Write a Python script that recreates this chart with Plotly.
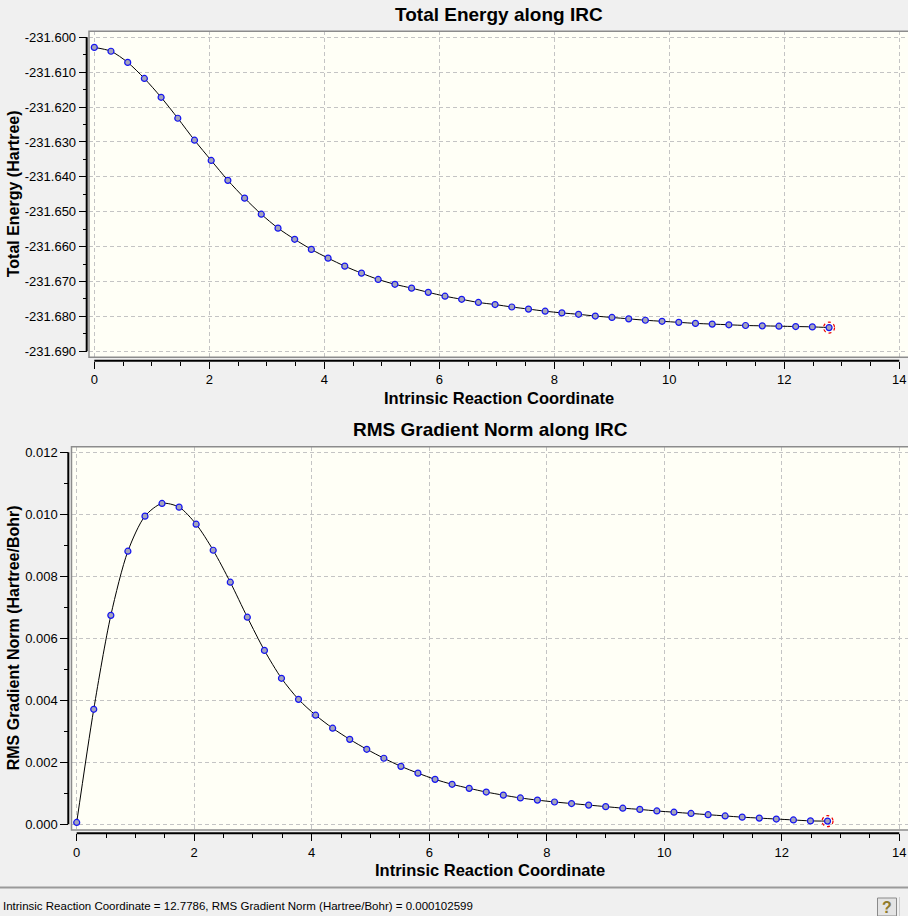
"""
Two-panel IRC (intrinsic reaction coordinate) plot: the total energy and
the RMS gradient norm along the reaction path, with a status bar at the
bottom like the viewer window it came from.
"""

import plotly.graph_objects as go

W, H = 908, 916

# Reaction coordinate of each IRC point (Bohr amu^1/2)
irc = [0.000, 0.290, 0.581, 0.871, 1.162, 1.452, 1.743, 2.033, 2.323,
       2.614, 2.904, 3.195, 3.485, 3.775, 4.066, 4.356, 4.647, 4.937,
       5.228, 5.518, 5.808, 6.099, 6.389, 6.680, 6.970, 7.261, 7.551,
       7.841, 8.132, 8.422, 8.713, 9.003, 9.294, 9.584, 9.874, 10.165,
       10.455, 10.746, 11.036, 11.326, 11.617, 11.907, 12.198, 12.488,
       12.7786]

# Total energy (Hartree)
energy = [-231.6029, -231.6040, -231.6072, -231.6118, -231.6172, -231.6232,
          -231.6295, -231.6353, -231.6410, -231.6461, -231.6507, -231.6547,
          -231.6579, -231.6608, -231.6633, -231.6656, -231.6676, -231.6694,
          -231.6708, -231.6719, -231.6731, -231.6742, -231.6751, -231.6760,
          -231.6766, -231.6773, -231.6779, -231.6785, -231.6790, -231.6794,
          -231.6799, -231.6803, -231.6807, -231.6811, -231.6814, -231.6817,
          -231.6820, -231.6822, -231.6824, -231.6826, -231.6827, -231.6828,
          -231.6829, -231.6830, -231.6832]

# RMS gradient norm (Hartree/Bohr)
gradient = [0.00006, 0.00371, 0.00674, 0.00881, 0.00994, 0.01035, 0.01023,
            0.00968, 0.00884, 0.00781, 0.00668, 0.00561, 0.00471, 0.00403,
            0.00352, 0.00310, 0.00274, 0.00242, 0.00213, 0.00187, 0.00165,
            0.00145, 0.00129, 0.00116, 0.00104, 0.00094, 0.00085, 0.00078,
            0.00072, 0.00067, 0.00062, 0.00057, 0.00052, 0.00048, 0.00043,
            0.00039, 0.00035, 0.00031, 0.00027, 0.00023, 0.00020, 0.00017,
            0.00014, 0.00011, 0.000102599]

# Tick labels
x_ticks = [0, 2, 4, 6, 8, 10, 12, 14]
energy_ticks = [-231.600, -231.610, -231.620, -231.630, -231.640,
                -231.650, -231.660, -231.670, -231.680, -231.690]
energy_labels = ['-231.600', '-231.610', '-231.620', '-231.630',
                 '-231.640', '-231.650', '-231.660', '-231.670',
                 '-231.680', '-231.690']
gradient_ticks = [0.000, 0.002, 0.004, 0.006, 0.008, 0.010, 0.012]
gradient_labels = ['0.000', '0.002', '0.004', '0.006', '0.008', '0.010',
                   '0.012']

status_text = ('Intrinsic Reaction Coordinate = 12.7786, '
               'RMS Gradient Norm (Hartree/Bohr) = 0.000102599')

FONT = 'Liberation Sans'
GRID = '#c4c4c4'
FRAME = '#8c8c8c'


def fx(px):
    """Pixel column -> paper fraction."""
    return px / W


def fy(py):
    """Pixel row (from top) -> paper fraction."""
    return 1 - py / H


def label(fig, text, x, y, size, bold=False, **kw):
    """Adds a centred paper-space text at pixel position (x, y)."""
    opts = dict(xanchor='center', yanchor='middle', showarrow=False)
    opts.update(kw)
    fig.add_annotation(text='<b>%s</b>' % text if bold else text,
                       xref='paper', yref='paper', x=fx(x), y=fy(y),
                       font=dict(family=FONT, size=size, color='black'),
                       **opts)


def add_panel(fig, n, box, axes_px, ticks, title, y_title):
    """
    Adds one panel. box = (left, top, bottom) pixels of the ivory area,
    axes_px = (x0_px, x14_px, ytop_px, ybot_px, yaxis_x, xaxis_y),
    ticks = (yvals, ylabels, yminor).
    """
    left, top, bottom = box
    x0p, x14p, ytp, ybp, yax_x, xax_y = axes_px
    yvals, ylabels, yminor = ticks
    ymax, ymin = max(yvals), min(yvals)

    # data range so that tick values land on the reference pixels
    xs = (x14p - x0p) / 14.0
    xr = [-(x0p - left) / xs, 14 + (W - x14p) / xs]
    ys = (ybp - ytp) / (ymax - ymin)
    yr = [ymin - (bottom - ybp) / ys, ymax + (ytp - top) / ys]

    xa = 'xaxis' if n == 1 else 'xaxis%d' % n
    ya = 'yaxis' if n == 1 else 'yaxis%d' % n
    tick_font = dict(family=FONT, size=13, color='black')
    fig.update_layout(**{
        xa: dict(domain=[fx(left), 1], range=xr, anchor='free',
                 position=fy(xax_y), tickmode='array', tickvals=x_ticks,
                 ticks='outside', ticklen=7, tickwidth=1, tickcolor='black',
                 tickfont=tick_font, showline=False, zeroline=False,
                 showgrid=True, gridcolor=GRID, gridwidth=1,
                 griddash='4px,3px', automargin=False,
                 minor=dict(tickmode='linear', tick0=0, dtick=0.5,
                            ticks='outside', ticklen=4, tickwidth=1,
                            tickcolor='black', showgrid=False)),
        ya: dict(domain=[fy(bottom), fy(top)], range=yr, anchor='free',
                 position=fx(yax_x), tickmode='array', tickvals=yvals,
                 ticktext=ylabels, ticks='outside', ticklen=8, tickwidth=1,
                 tickcolor='black', tickfont=tick_font, showline=False,
                 zeroline=False, showgrid=True, gridcolor=GRID,
                 gridwidth=1, griddash='4px,3px', automargin=False,
                 minor=dict(tickmode='linear', tick0=ymin,
                            dtick=yminor, ticks='outside', ticklen=4,
                            tickwidth=1, tickcolor='black',
                            showgrid=False)),
    })

    # ivory area and its frame (open on the right, like the window edge)
    fig.add_shape(type='rect', xref='paper', yref='paper', layer='below',
                  x0=fx(left), x1=1, y0=fy(bottom), y1=fy(top),
                  fillcolor='#fffff6', line_width=0)
    fig.add_shape(type='path', xref='paper', yref='paper',
                  path='M %f,%f L %f,%f L %f,%f L %f,%f' % (
                      1, fy(top), fx(left), fy(top), fx(left), fy(bottom),
                      1, fy(bottom)),
                  line=dict(color=FRAME, width=1.5))

    # axis lines only span the tick range, set apart from the frame
    fig.add_shape(type='line', xref='paper', yref='paper',
                  x0=fx(x0p), x1=fx(x14p), y0=fy(xax_y), y1=fy(xax_y),
                  line=dict(color='black', width=2))
    fig.add_shape(type='line', xref='paper', yref='paper',
                  x0=fx(yax_x), x1=fx(yax_x), y0=fy(ytp), y1=fy(ybp),
                  line=dict(color='black', width=2))

    cx = (x0p + x14p) / 2 + 2.5
    label(fig, title, cx, top - 17, 19, bold=True)
    label(fig, 'Intrinsic Reaction Coordinate', cx, xax_y + 37, 16.5,
          bold=True)
    label(fig, y_title, 13, (ytp + ybp) / 2, 16, bold=True, textangle=-90)


def add_curve(fig, n, values):
    """Draws the IRC points with a smooth line and rings the last point."""
    xref = 'x' if n == 1 else 'x%d' % n
    yref = 'y' if n == 1 else 'y%d' % n
    fig.add_trace(go.Scatter(
        x=irc, y=values, xaxis=xref, yaxis=yref, mode='lines+markers',
        line=dict(color='black', width=1, shape='spline', smoothing=0.8),
        marker=dict(size=6, color='#a4a4bc',
                    line=dict(color='#1515f0', width=1.2)),
        showlegend=False, cliponaxis=False, hoverinfo='skip'))
    fig.add_shape(type='circle', xref=xref, yref=yref,
                  xsizemode='pixel', ysizemode='pixel',
                  xanchor=irc[-1], yanchor=values[-1],
                  x0=-5.5, x1=5.5, y0=-5.5, y1=5.5,
                  line=dict(color='#ee0000', width=1.2, dash='dot'))


def plot_irc():
    fig = go.Figure()

    add_panel(fig, 1, (89, 31.3, 357.3),
              (94.3, 899.3, 37.3, 351.3, 86.7, 360.7),
              (energy_ticks, energy_labels, 0.005),
              'Total Energy along IRC', 'Total Energy (Hartree)')
    add_panel(fig, 2, (71.5, 446.7, 830),
              (76.7, 899.3, 452.3, 824.3, 68.3, 833.3),
              (gradient_ticks, gradient_labels, 0.001),
              'RMS Gradient Norm along IRC',
              'RMS Gradient Norm (Hartree/Bohr)')
    add_curve(fig, 1, energy)
    add_curve(fig, 2, gradient)

    # status bar
    fig.add_shape(type='line', xref='paper', yref='paper', x0=0, x1=1,
                  y0=fy(887.5), y1=fy(887.5),
                  line=dict(color='#9a9a9a', width=2))
    label(fig, status_text, 1, 906, 11.5, xanchor='left')
    fig.add_shape(type='rect', xref='paper', yref='paper',
                  x0=fx(877.5), x1=fx(896.5), y0=fy(916), y1=fy(898),
                  fillcolor='#e4e4e4', line=dict(color='#8a8a8a', width=1))
    fig.add_shape(type='line', xref='paper', yref='paper',
                  x0=fx(899.5), x1=fx(899.5), y0=fy(916), y1=fy(897),
                  line=dict(color='#d0d0d0', width=1))
    fig.add_annotation(text='<b>?</b>', xref='paper', yref='paper',
                       x=fx(887), y=fy(907), xanchor='center',
                       yanchor='middle', showarrow=False,
                       font=dict(family=FONT, size=16, color='#8f7a2a'))

    fig.update_layout(width=W, height=H, paper_bgcolor='#f0f0f0',
                      plot_bgcolor='rgba(0,0,0,0)',
                      margin=dict(l=0, r=0, t=0, b=0, pad=0))
    # the default page has an 8px body margin; drop it so the figure
    # fills the window exactly
    fig.write_html('out.html', config=dict(displayModeBar=False),
                   post_script="document.body.style.margin='0';"
                               "document.body.style.overflow='hidden';")


def main():
    plot_irc()


if __name__ == '__main__':
    main()
